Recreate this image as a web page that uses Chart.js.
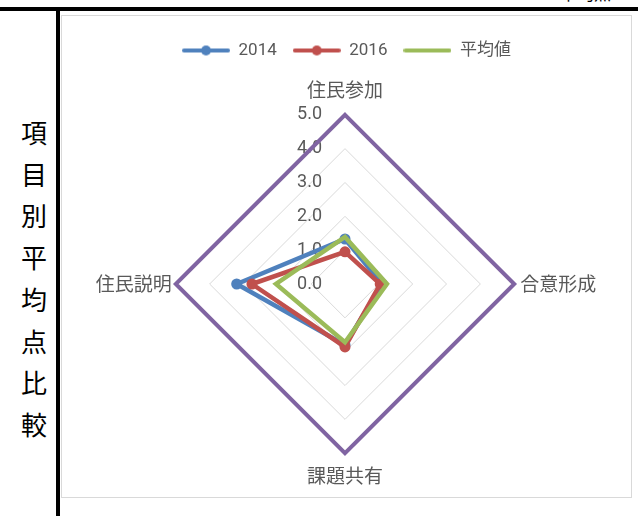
<!DOCTYPE html>
<html lang="ja">
<head>
<meta charset="utf-8">
<script src="https://cdn.jsdelivr.net/npm/chart.js@4.4.1/dist/chart.umd.min.js"></script>
<style>
  html, body { margin: 0; padding: 0; background: #fff; }
  body { width: 638px; height: 516px; position: relative; overflow: hidden; font-family: "Noto Sans CJK JP", sans-serif; }
  .topline { position: absolute; left: 0; top: 7px; width: 638px; height: 4px; background: #000; }
  .vline { position: absolute; left: 56px; top: 7px; width: 4px; height: 509px; background: #000; }
  .corner { position: absolute; left: 560px; top: -20px; font-size: 17px; color: #000; }
  .side {
    position: absolute; left: 19px; top: 111px; width: 30px;
    font-size: 26px; font-weight: 400; line-height: 41.7px; text-align: center; color: #000;
  }
  .box { position: absolute; left: 61px; top: 15px; width: 569px; height: 481px; border: 1px solid #d9d9d9; }
  canvas { display: block; }
</style>
</head>
<body>
<div class="topline"></div>
<div class="vline"></div>
<div class="corner">平均点</div>
<div class="side">項<br>目<br>別<br>平<br>均<br>点<br>比<br>較</div>
<div class="box"><canvas id="radar" width="569" height="481"></canvas></div>
<script>
// categories and values
const categories = ['住民参加', '合意形成', '課題共有', '住民説明'];
const values2014 = [1.33, 1.1, 1.8, 3.2];
const values2016 = [0.95, 1.04, 1.86, 2.75];
const valuesAvg = [1.39, 1.24, 1.72, 2.04];
const valuesMax = [5, 5, 5, 5];
const tickValues = [0, 1, 2, 3, 4, 5];

const textColor = '#595959';
const numFont = 'Roboto, "Noto Sans CJK JP", sans-serif';
const labelGaps = [14, 6, 11, 4];

// legend symbol: line with a dot in the middle
function legendIcon(color, dot) {
    const c = document.createElement('canvas');
    c.width = 48; c.height = 12;
    const g = c.getContext('2d');
    g.strokeStyle = color;
    g.lineWidth = 4;
    g.lineCap = 'round';
    g.beginPath(); g.moveTo(2, 6); g.lineTo(46, 6); g.stroke();
    if (dot) {
        g.fillStyle = color;
        g.beginPath(); g.arc(24, 6, 5, 0, Math.PI * 2); g.fill();
    }
    return c;
}

// extra room under the legend
const legendMargin = {
    id: 'legendMargin',
    beforeInit(chart) {
        const fit = chart.legend.fit;
        chart.legend.fit = function () {
            fit.bind(chart.legend)();
            this.height += 8;
        };
    }
};

// tick labels drawn to the left of the vertical axis, like Excel
const tickLabels = {
    id: 'tickLabels',
    beforeDatasetsDraw(chart) {
        const r = chart.scales.r;
        const ctx = chart.ctx;
        ctx.save();
        ctx.font = '18px ' + numFont;
        ctx.fillStyle = textColor;
        ctx.textAlign = 'right';
        ctx.textBaseline = 'middle';
        tickValues.forEach(v => {
            const y = r.yCenter - r.getDistanceFromCenterForValue(v);
            ctx.fillText(v.toFixed(1), r.xCenter - 23, y);
        });
        ctx.restore();
    }
};

const ctx = document.getElementById('radar');
new Chart(ctx, {
    type: 'radar',
    data: {
        labels: categories,
        datasets: [
            { label: '2014', data: values2014, borderColor: '#4F81BD', backgroundColor: '#4F81BD',
              borderWidth: 4.5, pointRadius: 5.5, pointBorderWidth: 0, fill: false, order: 3 },
            { label: '2016', data: values2016, borderColor: '#C0504D', backgroundColor: '#C0504D',
              borderWidth: 4.5, pointRadius: 5.5, pointBorderWidth: 0, fill: false, order: 2 },
            { label: '平均値', data: valuesAvg, borderColor: '#9BBB59', backgroundColor: '#9BBB59',
              borderWidth: 4.5, pointRadius: 0, fill: false, order: 1 },
            { label: 'max', data: valuesMax, borderColor: '#8064A2', backgroundColor: '#8064A2',
              borderWidth: 4, pointRadius: 0, fill: false, order: 4 }
        ]
    },
    options: {
        responsive: false,
        animation: false,
        layout: { padding: { top: 10, bottom: 7, left: 0, right: 0 } },
        plugins: {
            tooltip: { enabled: false },
            legend: {
                position: 'top',
                labels: {
                    usePointStyle: true,
                    pointStyleWidth: 48,
                    boxHeight: 12,
                    padding: 16,
                    color: textColor,
                    font: { family: numFont, size: 17 },
                    filter: item => item.text !== 'max',
                    generateLabels(chart) {
                        return chart.data.datasets.map((ds, i) => ({
                            text: ds.label,
                            fontColor: textColor,
                            pointStyle: legendIcon(ds.borderColor, ds.pointRadius > 0),
                            hidden: false,
                            lineWidth: 0,
                            datasetIndex: i
                        }));
                    }
                }
            }
        },
        scales: {
            r: {
                min: 0,
                max: 5,
                ticks: { display: false, stepSize: 1 },
                grid: { color: '#d9d9d9', lineWidth: 1 },
                angleLines: { display: false },
                pointLabels: {
                    color: textColor,
                    padding: c => labelGaps[c.index],
                    font: { family: '"Noto Sans CJK JP", sans-serif', size: 19 }
                }
            }
        }
    },
    plugins: [legendMargin, tickLabels]
});
</script>
</body>
</html>
